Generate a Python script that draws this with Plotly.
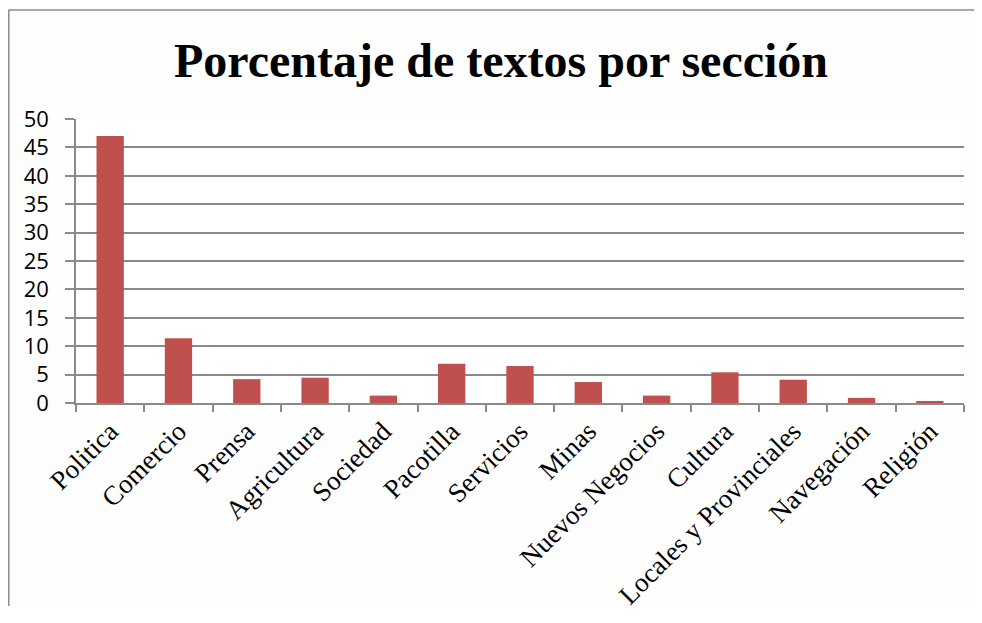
import plotly.graph_objects as go

categories = ["Politica", "Comercio", "Prensa", "Agricultura", "Sociedad", "Pacotilla",
              "Servicios", "Minas", "Nuevos Negocios", "Cultura",
              "Locales y Provinciales", "Navegación", "Religión"]
values = [47.0, 11.4, 4.2, 4.45, 1.3, 6.9, 6.5, 3.7, 1.3, 5.4, 4.1, 0.9, 0.2]
y_ticks = [0, 5, 10, 15, 20, 25, 30, 35, 40, 45, 50]
title_text = "Porcentaje de textos por sección"

# page has an 8px body margin; figure coordinates = page coordinates - 8
OFF = 8
W, H = 982 - 2 * OFF, 598
L, T = 76 - OFF, 119 - OFF
pw, ph = 888, 284
R = W - L - pw
B = H - T - ph

def px(x):  # page pixel -> paper x
    return (x - OFF - L) / pw

def py(y):  # page pixel -> paper y
    return (T + ph - (y - OFF)) / ph

fig = go.Figure(go.Bar(
    x=categories, y=values,
    marker=dict(color="#C0504D", line=dict(width=0)),
))

grid = "#8A8A8A"
fig.update_layout(
    width=W, height=H,
    margin=dict(l=L, r=R, t=T, b=B, autoexpand=False),
    paper_bgcolor="#FEFEFE", plot_bgcolor="#FFFFFF",
    bargap=0.6,
    showlegend=False,
    title=dict(text="<b>" + title_text + "</b>",
               font=dict(family="Liberation Serif", size=48, color="black"),
               x=px(501), xref="paper", xanchor="center",
               y=1 - (60 - OFF) / H, yref="container", yanchor="middle"),
    xaxis=dict(
        tickangle=-45,
        tickfont=dict(family="Liberation Serif", size=27, color="black"),
        showline=True, linecolor=grid, linewidth=1.5,
        ticks="outside", tickson="boundaries", ticklen=7, tickcolor=grid, tickwidth=1.5,
        showgrid=False, automargin=False,
    ),
    yaxis=dict(
        range=[0, 50], tickvals=y_ticks,
        tickfont=dict(family="Open Sans", size=22, color="black"),
        showline=True, linecolor=grid, linewidth=1.5,
        ticks="outside", ticklen=9, tickcolor=grid, tickwidth=1.5,
        ticklabelstandoff=12,
        showgrid=True, gridcolor=grid, gridwidth=1.5,
        zeroline=False, automargin=False,
    ),
    shapes=[
        dict(type="line", xref="paper", yref="paper",
             x0=px(8.5), x1=px(OFF + W), y0=py(10), y1=py(10),
             line=dict(color="#8C8C8C", width=1.5)),
        dict(type="line", xref="paper", yref="paper",
             x0=px(8.75), x1=px(8.75), y0=py(10), y1=py(OFF + H),
             line=dict(color="#8C8C8C", width=1.5)),
    ],
)

fig.write_html("out.html")
